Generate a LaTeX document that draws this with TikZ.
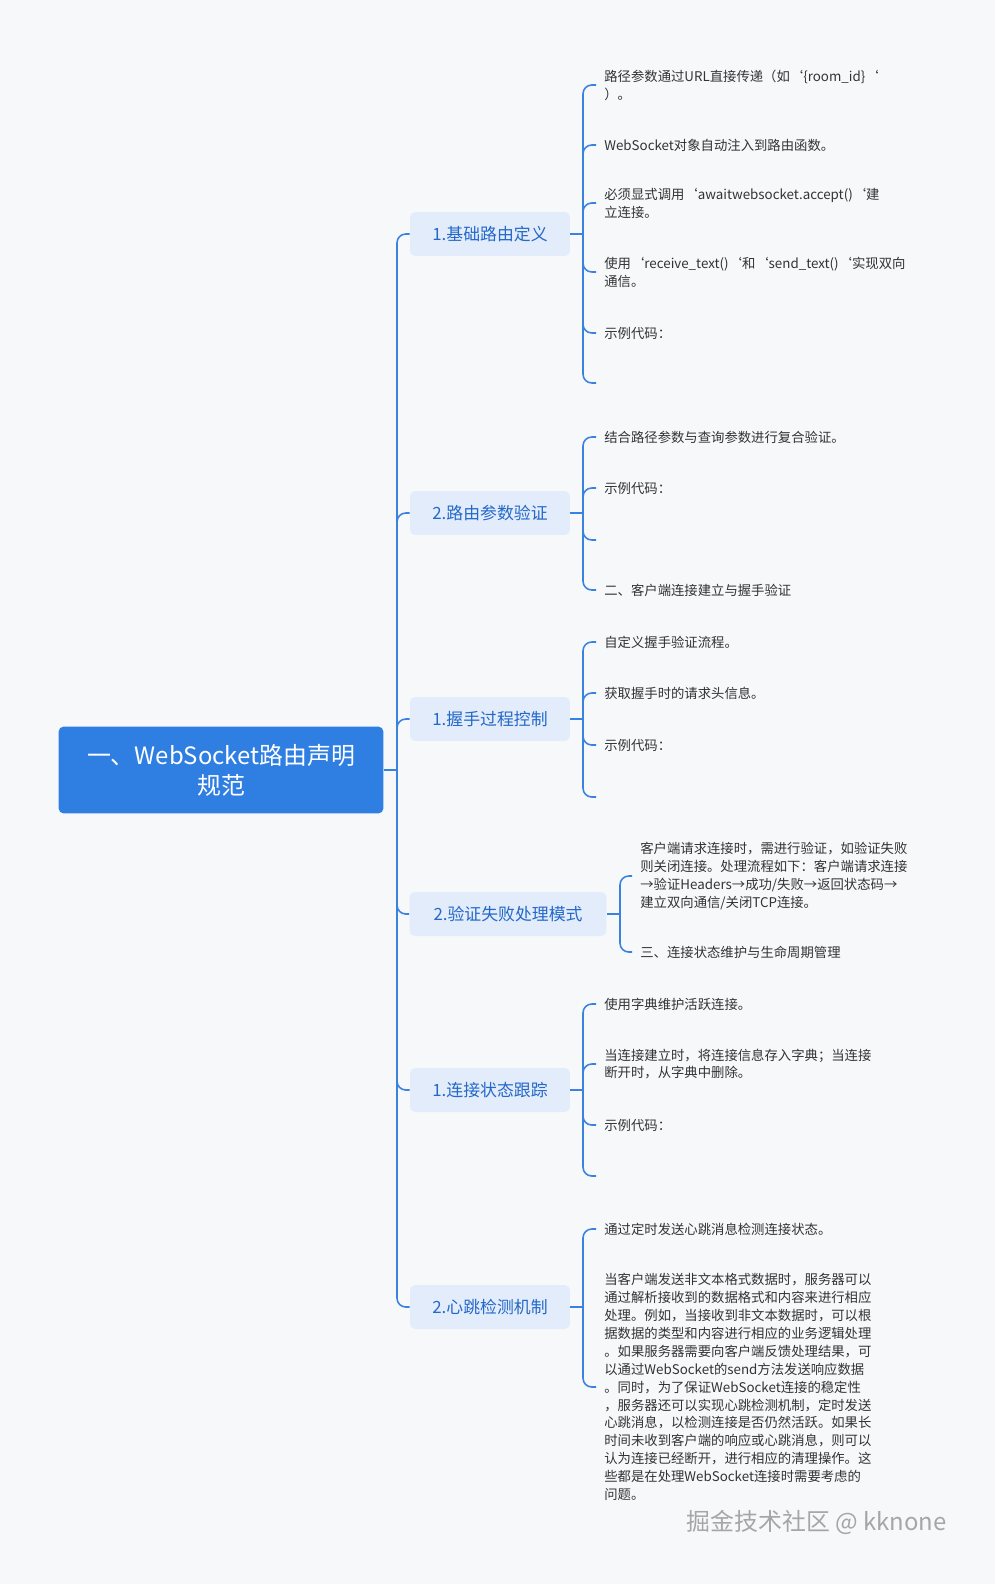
\documentclass[tikz,border=0pt]{standalone}
\usepackage{fontspec}
\setmainfont{Noto Sans CJK SC}
\usetikzlibrary{positioning}
\definecolor{bgc}{HTML}{F7F8FA}
\definecolor{rootc}{HTML}{2F7FE3}
\definecolor{subc}{HTML}{E3ECFB}
\definecolor{subt}{HTML}{2468C8}
\definecolor{linec}{HTML}{3A82E0}
\definecolor{leaft}{HTML}{333333}
\newcommand{\bq}{\symbol{96}}
\tikzset{
  rootbox/.style={fill=rootc,text=white,rounded corners=3pt,minimum width=6.5cm,minimum height=1.74cm,align=center,font=\fontsize{13.6}{17}\selectfont},
  subbox/.style={fill=subc,text=subt,rounded corners=3pt,minimum height=0.88cm,inner xsep=0.4cm,font=\fontsize{9.6}{12}\selectfont},
  leafbox/.style={anchor=west,text=leaft,align=left,inner sep=0pt,xshift=0.16cm,font=\fontsize{7.6}{10.2}\selectfont},
  conn/.style={draw=linec,line width=0.9pt,rounded corners=5pt}
}
\begin{document}
\begin{tikzpicture}[x=0.02cm,y=-0.02cm]
\fill[bgc] (0,0) rectangle (995,1584);
\useasboundingbox (0,0) rectangle (995,1584);
% root and subtopics
\node[rootbox] (root) at (221,770) {一、WebSocket路由声明\\规范};
\node[subbox,minimum width=3.2cm] (s1) at (490,234) {1.基础路由定义};
\node[subbox,minimum width=3.2cm] (s2) at (490,513) {2.路由参数验证};
\node[subbox,minimum width=3.2cm] (s3) at (490,719) {1.握手过程控制};
\node[subbox,minimum width=3.94cm] (s4) at (508,914) {2.验证失败处理模式};
\node[subbox,minimum width=3.2cm] (s5) at (490,1090) {1.连接状态跟踪};
\node[subbox,minimum width=3.2cm] (s6) at (490,1307) {2.心跳检测机制};
\coordinate (trunk) at (397,770);
\draw[conn] (root.east) -- (trunk);
\foreach \s in {s1,s2,s3,s4,s5,s6}
  \draw[conn] (trunk) |- (\s.west);
% group 1
\coordinate (t11) at (596,85);  \node[leafbox] (l11) at (t11) {路径参数通过URL直接传递（如\bq\{room\_id\}\bq\\）。};
\coordinate (t12) at (596,145); \node[leafbox] (l12) at (t12) {WebSocket对象自动注入到路由函数。};
\coordinate (t13) at (596,203); \node[leafbox] (l13) at (t13) {必须显式调用\bq awaitwebsocket.accept()\bq 建\\立连接。};
\coordinate (t14) at (596,272); \node[leafbox] (l14) at (t14) {使用\bq receive\_text()\bq 和\bq send\_text()\bq 实现双向\\通信。};
\coordinate (t15) at (596,333); \node[leafbox] (l15) at (t15) {示例代码：};
\coordinate (t16) at (596,383);
% group 2
\coordinate (t21) at (596,437); \node[leafbox] (l21) at (t21) {结合路径参数与查询参数进行复合验证。};
\coordinate (t22) at (596,488); \node[leafbox] (l22) at (t22) {示例代码：};
\coordinate (t23) at (596,540);
\coordinate (t24) at (596,590); \node[leafbox] (l24) at (t24) {二、客户端连接建立与握手验证};
% group 3
\coordinate (t31) at (596,642); \node[leafbox] (l31) at (t31) {自定义握手验证流程。};
\coordinate (t32) at (596,693); \node[leafbox] (l32) at (t32) {获取握手时的请求头信息。};
\coordinate (t33) at (596,745); \node[leafbox] (l33) at (t33) {示例代码：};
\coordinate (t34) at (596,797);
% group 4
\coordinate (t41) at (632,876); \node[leafbox] (l41) at (t41) {客户端请求连接时，需进行验证，如验证失败\\则关闭连接。处理流程如下：客户端请求连接\\→验证Headers→成功/失败→返回状态码→\\建立双向通信/关闭TCP连接。};
\coordinate (t42) at (632,952); \node[leafbox] (l42) at (t42) {三、连接状态维护与生命周期管理};
% group 5
\coordinate (t51) at (596,1004); \node[leafbox] (l51) at (t51) {使用字典维护活跃连接。};
\coordinate (t52) at (596,1064); \node[leafbox] (l52) at (t52) {当连接建立时，将连接信息存入字典；当连接\\断开时，从字典中删除。};
\coordinate (t53) at (596,1125); \node[leafbox] (l53) at (t53) {示例代码：};
\coordinate (t54) at (596,1176);
% group 6
\coordinate (t61) at (596,1229); \node[leafbox] (l61) at (t61) {通过定时发送心跳消息检测连接状态。};
\coordinate (t62) at (596,1387); \node[leafbox] (l62) at (t62) {当客户端发送非文本格式数据时，服务器可以\\通过解析接收到的数据格式和内容来进行相应\\处理。例如，当接收到非文本数据时，可以根\\据数据的类型和内容进行相应的业务逻辑处理\\。如果服务器需要向客户端反馈处理结果，可\\以通过WebSocket的send方法发送响应数据\\。同时，为了保证WebSocket连接的稳定性\\，服务器还可以实现心跳检测机制，定时发送\\心跳消息，以检测连接是否仍然活跃。如果长\\时间未收到客户端的响应或心跳消息，则可以\\认为连接已经断开，进行相应的清理操作。这\\些都是在处理WebSocket连接时需要考虑的\\问题。};
% brackets
\draw[conn] (t11) -| (583,234) |- (t16);
\foreach \t in {t12,t13,t14,t15} \draw[conn] (583,234) |- (\t);
\draw[conn] (s1.east) -- (583,234);
\draw[conn] (t21) -| (583,513) |- (t24);
\foreach \t in {t22,t23} \draw[conn] (583,513) |- (\t);
\draw[conn] (s2.east) -- (583,513);
\draw[conn] (t31) -| (583,719) |- (t34);
\foreach \t in {t32,t33} \draw[conn] (583,719) |- (\t);
\draw[conn] (s3.east) -- (583,719);
\draw[conn] (t41) -| (620,914) |- (t42);
\draw[conn] (s4.east) -- (620,914);
\draw[conn] (t51) -| (583,1090) |- (t54);
\foreach \t in {t52,t53} \draw[conn] (583,1090) |- (\t);
\draw[conn] (s5.east) -- (583,1090);
\draw[conn] (t61) -| (583,1307) |- (t62);
\draw[conn] (s6.east) -- (583,1307);
% watermark
\node[text=gray!70,anchor=east,font=\fontsize{13.6}{16}\selectfont] (wm) at (953,1522) {掘金技术社区 @ kknone};
\end{tikzpicture}
\end{document}
